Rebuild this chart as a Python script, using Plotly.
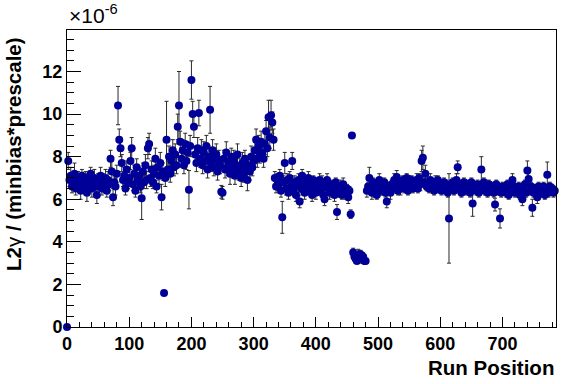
import plotly.graph_objects as go

# Run positions are sampled every 2 runs: 0, 2, 4, ..., 784
run_step = 2

# L2gamma / (minbias*prescale), in units of 1e-6
ratio_values = [
    0.0, 7.8, 6.9, 7.1, 6.6, 6.8, 7.2, 6.5, 6.9, 7.0,
    6.7, 6.4, 7.1, 6.8, 6.6, 7.0, 6.3, 6.9, 6.7, 7.2,
    6.5, 6.8, 7.0, 6.6, 6.2, 6.9, 6.7, 7.1, 6.5, 6.8,
    6.6, 7.0, 6.4, 6.9, 6.7, 7.9, 7.3, 6.1, 6.8, 6.6,
    7.2, 10.4, 8.8, 8.4, 7.7, 6.9, 7.1, 6.5, 7.4, 6.8,
    7.0, 7.8, 8.4, 6.7, 7.2, 6.4, 7.5, 6.9, 7.1, 6.6,
    6.05, 7.3, 6.8, 7.6, 6.9, 8.4, 8.6, 7.0, 7.4, 6.8,
    7.2, 7.9, 6.6, 7.5, 7.1, 7.7, 6.1, 7.3, 1.6, 7.0,
    8.8, 7.4, 8.0, 7.2, 7.8, 8.3, 7.5, 8.1, 7.6, 9.4,
    10.4, 8.7, 7.9, 8.3, 7.6, 8.6, 7.8, 8.2, 6.45, 8.5,
    11.6, 10.0, 9.4, 8.1, 7.7, 8.4, 10.05, 7.9, 8.3, 7.6,
    8.2, 7.8, 8.5, 7.4, 8.0, 10.2, 7.7, 8.3, 7.5, 7.9,
    8.1, 7.3, 7.8, 7.6, 6.35, 6.3, 7.9, 7.4, 8.2, 7.5,
    7.7, 7.2, 8.0, 7.4, 7.8, 7.1, 7.6, 8.1, 7.3, 7.5,
    7.0, 7.7, 7.2, 7.9, 7.4, 6.9, 7.6, 7.3, 8.0, 7.5,
    7.8, 8.3, 8.8, 7.9, 8.5, 8.1, 8.7, 8.2, 7.9, 8.6,
    9.2, 8.4, 9.85, 8.9, 9.95, 9.6, 8.8, 7.0, 6.6, 6.9,
    6.7, 7.1, 6.4, 5.15, 6.8, 7.7, 6.5, 6.9, 6.3, 7.0,
    6.6, 7.8, 6.4, 6.8, 6.2, 6.7, 6.9, 5.9, 6.5, 7.1,
    6.6, 6.3, 6.8, 6.5, 7.0, 6.4, 6.7, 6.2, 6.9, 6.5,
    6.3, 6.7, 6.5, 6.9, 6.4, 6.8, 6.2, 6.0, 6.6, 6.9,
    6.5, 6.3, 6.7, 6.4, 6.6, 6.2, 6.8, 5.4, 6.5, 6.3,
    6.6, 6.2, 6.7, 6.4, 6.3, 6.5, 6.1, 6.4, 5.3, 9.0,
    3.5, 3.3, 3.2, 3.1, 3.35, 3.4, 3.4, 3.2, 3.3, 3.1,
    3.1, 6.4, 6.6, 7.0, 6.5, 6.3, 6.8, 6.4, 6.7, 6.2,
    6.6, 6.9, 6.4, 6.7, 6.5, 6.8, 6.3, 5.9, 6.6, 6.4,
    6.3, 6.7, 6.5, 6.9, 6.6, 7.05, 6.4, 6.8, 6.5, 6.7,
    6.9, 6.5, 6.7, 7.0, 6.4, 6.8, 6.6, 6.9, 6.5, 6.7,
    6.6, 6.9, 6.5, 7.0, 6.7, 7.8, 7.95, 6.8, 7.2, 6.6,
    6.8, 6.5, 6.9, 6.6, 6.7, 6.4, 6.8, 6.6, 6.9, 6.5,
    6.7, 6.4, 6.6, 6.8, 6.5, 6.7, 6.3, 5.1, 6.6, 6.5,
    6.8, 6.4, 6.6, 6.9, 7.5, 6.5, 6.7, 6.3, 6.6, 6.8,
    6.4, 6.7, 6.5, 6.6, 6.3, 6.8, 5.8, 6.5, 6.6, 6.4,
    6.7, 6.3, 6.6, 7.4, 6.5, 6.8, 6.4, 6.6, 6.3, 6.7,
    6.5, 6.4, 6.6, 6.3, 5.75, 6.7, 6.4, 6.5, 5.1, 6.3,
    6.6, 6.4, 6.5, 6.3, 6.7, 6.2, 6.5, 6.4, 6.9, 6.6,
    6.3, 6.5, 6.4, 6.6, 6.2, 6.5, 6.0, 6.4, 6.7, 6.3,
    7.35, 6.95, 6.4, 6.6, 5.6, 6.3, 6.5, 6.4, 6.1, 6.6,
    6.3, 6.5, 6.4, 6.6, 6.2, 6.5, 7.15, 6.3, 6.6, 6.4,
    6.5, 6.3, 6.4,
]

ratio_errors = [
    0.0, 0.4, 0.3, 0.4, 0.3, 0.4, 0.5, 0.3, 0.4, 0.3,
    0.3, 0.4, 0.3, 0.4, 0.3, 0.3, 0.4, 0.3, 0.4, 0.3,
    0.4, 0.3, 0.4, 0.3, 0.4, 0.3, 0.3, 0.4, 0.3, 0.4,
    0.3, 0.4, 0.3, 0.4, 0.3, 0.4, 0.5, 0.4, 0.3, 0.4,
    0.4, 0.9, 0.5, 0.4, 0.4, 0.3, 0.4, 0.3, 0.4, 0.3,
    0.4, 0.4, 0.5, 0.3, 0.4, 0.3, 0.4, 0.3, 0.4, 0.3,
    1.0, 0.4, 0.3, 0.5, 0.4, 0.5, 0.5, 0.4, 0.4, 0.3,
    0.4, 0.5, 0.3, 0.4, 0.4, 0.5, 0.6, 0.4, 0.1, 0.4,
    1.8, 0.4, 0.5, 0.4, 0.5, 0.5, 0.4, 0.5, 0.4, 0.6,
    1.6, 0.5, 0.4, 0.5, 0.4, 0.5, 0.4, 0.5, 0.9, 0.5,
    0.9, 0.6, 0.5, 0.4, 0.4, 0.5, 0.6, 0.4, 0.5, 0.4,
    0.5, 0.4, 0.5, 0.4, 0.5, 1.1, 0.4, 0.5, 0.4, 0.5,
    0.5, 0.4, 0.5, 0.4, 0.3, 0.3, 0.4, 0.4, 0.5, 0.4,
    0.4, 0.5, 0.4, 0.4, 0.5, 0.4, 0.4, 0.5, 0.4, 0.4,
    0.4, 0.5, 0.4, 0.4, 0.4, 0.5, 0.4, 0.4, 0.5, 0.4,
    0.4, 0.5, 0.5, 0.4, 0.5, 0.4, 0.5, 0.4, 0.4, 0.5,
    0.5, 0.4, 0.8, 0.5, 0.7, 0.5, 0.5, 0.3, 0.3, 0.3,
    0.3, 0.3, 0.3, 0.75, 0.3, 0.5, 0.3, 0.3, 0.3, 0.3,
    0.3, 0.4, 0.2, 0.3, 0.3, 0.2, 0.3, 0.3, 0.2, 0.3,
    0.2, 0.3, 0.3, 0.2, 0.3, 0.2, 0.3, 0.3, 0.2, 0.3,
    0.3, 0.2, 0.3, 0.3, 0.2, 0.3, 0.2, 0.3, 0.2, 0.3,
    0.2, 0.3, 0.2, 0.3, 0.2, 0.3, 0.2, 0.35, 0.3, 0.2,
    0.3, 0.2, 0.3, 0.2, 0.3, 0.2, 0.3, 0.2, 0.2, 0.1,
    0.2, 0.2, 0.2, 0.1, 0.3, 0.2, 0.2, 0.2, 0.2, 0.1,
    0.1, 0.3, 0.2, 0.5, 0.2, 0.3, 0.2, 0.3, 0.2, 0.2,
    0.2, 0.3, 0.2, 0.2, 0.3, 0.2, 0.2, 0.3, 0.2, 0.2,
    0.3, 0.2, 0.2, 0.3, 0.2, 0.3, 0.2, 0.2, 0.3, 0.2,
    0.2, 0.2, 0.3, 0.2, 0.2, 0.3, 0.2, 0.2, 0.2, 0.3,
    0.2, 0.3, 0.2, 0.2, 0.3, 0.5, 0.55, 0.2, 0.4, 0.2,
    0.2, 0.2, 0.3, 0.2, 0.2, 0.2, 0.3, 0.2, 0.2, 0.2,
    0.2, 0.2, 0.3, 0.2, 0.2, 0.2, 0.2, 2.1, 0.2, 0.2,
    0.2, 0.2, 0.2, 0.3, 0.3, 0.2, 0.2, 0.2, 0.2, 0.2,
    0.2, 0.2, 0.2, 0.2, 0.2, 0.2, 0.6, 0.2, 0.2, 0.2,
    0.2, 0.2, 0.2, 0.6, 0.2, 0.2, 0.2, 0.2, 0.2, 0.2,
    0.2, 0.2, 0.2, 0.2, 0.3, 0.2, 0.2, 0.2, 0.45, 0.2,
    0.2, 0.2, 0.2, 0.2, 0.2, 0.2, 0.2, 0.2, 0.3, 0.2,
    0.2, 0.2, 0.2, 0.2, 0.2, 0.2, 0.3, 0.2, 0.2, 0.2,
    0.45, 0.3, 0.2, 0.2, 0.4, 0.2, 0.2, 0.2, 0.3, 0.2,
    0.2, 0.2, 0.2, 0.2, 0.2, 0.2, 0.6, 0.2, 0.2, 0.2,
    0.2, 0.2, 0.2,
]

run_positions = [i * run_step for i in range(len(ratio_values))]

x_title = "Run Position"
y_title = "L2<span style='font-weight:normal'>γ</span> / (minbias*prescale)"
exponent_label = "×10<sup>-6</sup>"

FONT = "Liberation Sans, Arial, Helvetica, sans-serif"

fig = go.Figure()
fig.add_trace(go.Scatter(
    x=run_positions,
    y=ratio_values,
    mode="markers",
    marker=dict(color="#000099", size=8, line=dict(width=0)),
    error_y=dict(type="data", array=ratio_errors, color="#2a2a2a",
                 thickness=1, width=2),
    cliponaxis=False,
    showlegend=False,
))

fig.update_layout(
    width=567, height=384,
    margin=dict(l=67, r=11, t=30, b=57),
    paper_bgcolor="white", plot_bgcolor="white",
    font=dict(family=FONT, color="black"),
    showlegend=False,
)

fig.update_xaxes(
    range=[0, 786], showgrid=False, zeroline=False,
    showline=True, linecolor="black", linewidth=1, mirror=True,
    ticks="inside", ticklen=10, tickcolor="black", tickwidth=1,
    tick0=0, dtick=100,
    minor=dict(ticks="inside", ticklen=5, dtick=20, tickcolor="black", showgrid=False),
    tickfont=dict(family=FONT, size=18, weight="bold"),
)
fig.update_yaxes(
    range=[0, 13.95], showgrid=False, zeroline=False,
    showline=True, linecolor="black", linewidth=1, mirror=True,
    ticks="inside", ticklen=14, tickcolor="black", tickwidth=1,
    tick0=0, dtick=2,
    minor=dict(ticks="inside", ticklen=7, dtick=0.5, tickcolor="black", showgrid=False),
    tickfont=dict(family=FONT, size=18, weight="bold"),
)

# axis titles placed ROOT-style (right/top aligned)
fig.add_annotation(
    text=x_title, xref="paper", yref="paper", x=1.0, y=0, yshift=-27,
    xanchor="right", yanchor="top", showarrow=False,
    font=dict(family=FONT, size=20.5, weight="bold"),
)
fig.add_annotation(
    text=y_title, xref="paper", yref="paper", x=0, xshift=-54, y=1.0, yshift=-5,
    xanchor="center", yanchor="top", textangle=-90, showarrow=False,
    font=dict(family=FONT, size=20.5, weight="bold"),
)
fig.add_annotation(
    text=exponent_label, xref="paper", yref="paper", x=0, y=1.0, yshift=1,
    xanchor="left", yanchor="bottom", showarrow=False,
    font=dict(family=FONT, size=21),
)

fig.write_html(
    "out.html",
    config={"displayModeBar": False},
    post_script="document.body.style.margin='0px';document.body.style.overflow='hidden';",
)
